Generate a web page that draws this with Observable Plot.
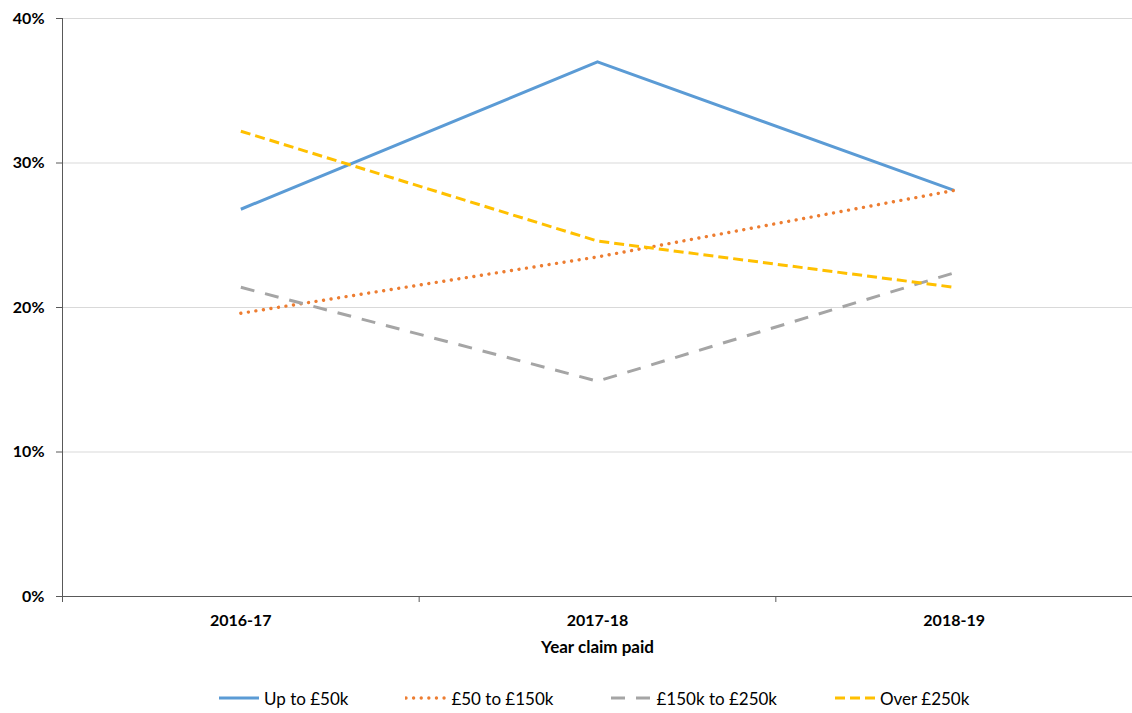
<!DOCTYPE html>
<html>
<head>
<meta charset="utf-8">
<script src="https://cdn.jsdelivr.net/npm/d3@7"></script>
<script src="https://cdn.jsdelivr.net/npm/@observablehq/plot@0.6"></script>
<style>
  html, body { margin: 0; padding: 0; background: #fff; }
  #chart { width: 1132px; }
  #legend { display: flex; align-items: center; height: 24px; margin-top: 16px; padding-left: 218px;
    font-family: Lato, "Open Sans", sans-serif; font-size: 17px; color: #000; }
  .item { display: flex; align-items: center; margin-right: 57px; }
  .item svg { margin-right: 4px; }
</style>
</head>
<body>
<div id="chart"></div>
<div id="legend"></div>
<script>
// Data
const years = ["2016-17", "2017-18", "2018-19"];
const seriesNames = ["Up to £50k", "£50 to £150k", "£150k to £250k", "Over £250k"];
const upTo50k = [0.268, 0.370, 0.281];
const from50to150k = [0.196, 0.235, 0.281];
const from150to250k = [0.214, 0.149, 0.224];
const over250k = [0.322, 0.246, 0.214];
const yTicks = [0, 0.1, 0.2, 0.3, 0.4];

// Styles
const colors = ["#5B9BD5", "#ED7D31", "#A5A5A5", "#FFC000"];
const dashes = [null, "0.01 7.6", "14 11", "10 5"];
const caps = ["butt", "round", "butt", "butt"];
const widths = [3, 3.4, 3, 3];
const values = [upTo50k, from50to150k, from150to250k, over250k];

const rows = seriesNames.flatMap((name, s) =>
  values[s].map((v, i) => ({series: name, i, v}))
);

const axisColor = "#595959";
const boundaries = years.map((_, i) => i - 0.5).concat([years.length - 0.5]);

const lineMarks = seriesNames.map((name, s) =>
  Plot.line(rows.filter(d => d.series === name), {
    x: "i", y: "v",
    stroke: colors[s], strokeWidth: widths[s],
    strokeDasharray: dashes[s] || undefined,
    strokeLinecap: caps[s], strokeLinejoin: "round"
  })
);

const chart = Plot.plot({
  width: 1132,
  height: 670,
  marginLeft: 62,
  marginRight: 0,
  marginTop: 18,
  marginBottom: 74,
  style: {fontFamily: "Lato, 'Open Sans', sans-serif", fontSize: "16px", fontWeight: "bold", color: "#000", background: "#fff"},
  x: {type: "linear", domain: [-0.5, years.length - 0.5], label: null},
  y: {domain: [0, 0.4], label: null},
  marks: [
    Plot.gridY(yTicks.slice(1), {stroke: "#d9d9d9", strokeOpacity: 1}),
    Plot.axisY({ticks: yTicks, tickFormat: d3.format(".0%"), tickSize: 6, tickPadding: 12, stroke: axisColor, label: null}),
    Plot.axisX({ticks: boundaries, tickSize: 6, tickFormat: () => "", stroke: axisColor, label: null}),
    Plot.axisX({ticks: years.map((_, i) => i), tickSize: 0, tickPadding: 18, tickFormat: i => years[i], label: null}),
    Plot.ruleY([0], {stroke: axisColor}),
    Plot.ruleX([-0.5], {stroke: axisColor}),
    Plot.text(["Year claim paid"], {frameAnchor: "bottom", dy: 56, fontSize: 17, fontWeight: "bold", fill: "#000"}),
    ...lineMarks
  ]
});
document.getElementById("chart").appendChild(chart);

// Legend
const legend = document.getElementById("legend");
seriesNames.forEach((name, s) => {
  const item = document.createElement("div");
  item.className = "item";
  const svg = d3.create("svg").attr("width", 42).attr("height", 10);
  svg.append("line").attr("x1", 1).attr("x2", 41).attr("y1", 5).attr("y2", 5)
    .attr("stroke", colors[s]).attr("stroke-width", widths[s])
    .attr("stroke-dasharray", dashes[s])
    .attr("stroke-linecap", caps[s]);
  item.appendChild(svg.node());
  const label = document.createElement("span");
  label.textContent = name;
  item.appendChild(label);
  legend.appendChild(item);
});
</script>
</body>
</html>
